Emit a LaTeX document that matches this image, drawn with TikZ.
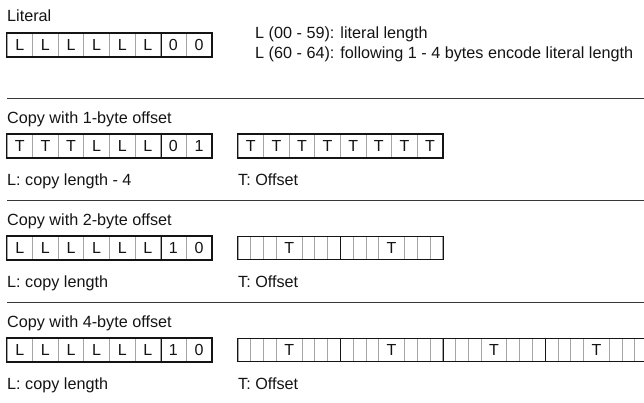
\documentclass[tikz,border=0pt]{standalone}
\usepackage{fontspec}
\setmainfont{Liberation Sans}
\definecolor{ink}{RGB}{20,20,20}
\definecolor{sepgray}{RGB}{165,165,165}
\begin{document}
\begin{tikzpicture}[x=1pt,y=-1pt,
  txt/.style={anchor=base west,inner sep=0pt,text=ink,font=\fontsize{16.2}{19}\selectfont},
  cell/.style={draw=sepgray,line width=0.7pt,minimum width=25.6pt,minimum height=23pt,inner sep=0pt,text=ink,font=\fontsize{16}{19}\selectfont},
  half/.style={cell,minimum width=12.8pt},
  tcell/.style={cell,minimum width=25.6pt},
  outerthick/.style={draw=ink,line width=1.6pt},
  outerthin/.style={draw=ink,line width=0.8pt},
  bytesep/.style={draw=ink,line width=0.9pt},
  rule/.style={draw=ink!85,line width=0.8pt}]
\useasboundingbox (0,0) rectangle (644,402);

% ---------- Literal ----------
\node[txt] (tlit) at (7,21) {Literal};
\foreach \t [count=\i] in {L,L,L,L,L,L,0,0}
  \node[cell] (lit\i) at ({7+(\i-0.5)*25.6},45) {\t};
\draw[bytesep] (lit6.north east) -- (lit6.south east);
\draw[outerthick] (lit1.north west) rectangle (lit8.south east);
\node[txt] (litA) at (255,38) {L (00 - 59): literal length};
\node[txt] (litB) at (255,58) {L (60 - 64): following 1 - 4 bytes encode literal length};

\coordinate (r1a) at (7,98); \coordinate (r1b) at (644,98);
\draw[rule] (r1a) -- (r1b);

% ---------- Copy 1-byte ----------
\node[txt] (t1) at (7,123) {Copy with 1-byte offset};
\foreach \t [count=\i] in {T,T,T,L,L,L,0,1}
  \node[cell] (a\i) at ({7+(\i-0.5)*25.6},146) {\t};
\draw[bytesep] (a6.north east) -- (a6.south east);
\draw[outerthick] (a1.north west) rectangle (a8.south east);
\foreach \i in {1,...,8}
  \node[cell] (ao\i) at ({238+(\i-0.5)*25.6},146) {T};
\draw[outerthick] (ao1.north west) rectangle (ao8.south east);
\node[txt] (l1) at (7,185) {L: copy length - 4};
\node[txt] (o1) at (238,185) {T: Offset};

\coordinate (r2a) at (7,200); \coordinate (r2b) at (644,200);
\draw[rule] (r2a) -- (r2b);

% ---------- Copy 2-byte ----------
\node[txt] (t2) at (7,225) {Copy with 2-byte offset};
\foreach \t [count=\i] in {L,L,L,L,L,L,1,0}
  \node[cell] (b\i) at ({7+(\i-0.5)*25.6},248) {\t};
\draw[bytesep] (b6.north east) -- (b6.south east);
\draw[outerthick] (b1.north west) rectangle (b8.south east);
\foreach \b in {0,1}{
  \foreach \k in {0,1,2,5,6,7}
    \node[half] (bh\b-\k) at ({238+\b*102.4+(\k+0.5)*12.8},248) {};
  \node[tcell] (bt\b) at ({238+\b*102.4+51.2},248) {T};
}
\draw[bytesep] (bh0-7.north east) -- (bh0-7.south east);
\draw[outerthin] (bh0-0.north west) rectangle (bh1-7.south east);
\node[txt] (l2) at (7,287) {L: copy length};
\node[txt] (o2) at (238,287) {T: Offset};

\coordinate (r3a) at (7,302); \coordinate (r3b) at (644,302);
\draw[rule] (r3a) -- (r3b);

% ---------- Copy 4-byte ----------
\node[txt] (t4) at (7,327) {Copy with 4-byte offset};
\foreach \t [count=\i] in {L,L,L,L,L,L,1,0}
  \node[cell] (c\i) at ({7+(\i-0.5)*25.6},350) {\t};
\draw[bytesep] (c6.north east) -- (c6.south east);
\draw[outerthick] (c1.north west) rectangle (c8.south east);
\foreach \b in {0,1,2,3}{
  \foreach \k in {0,1,2,5,6,7}
    \node[half] (ch\b-\k) at ({238+\b*102.4+(\k+0.5)*12.8},350) {};
  \node[tcell] (ct\b) at ({238+\b*102.4+51.2},350) {T};
}
\foreach \b in {0,1,2}
  \draw[bytesep] (ch\b-7.north east) -- (ch\b-7.south east);
\draw[outerthin] (ch0-0.north west) rectangle (ch3-7.south east);
\node[txt] (l4) at (7,389) {L: copy length};
\node[txt] (o4) at (238,389) {T: Offset};
\end{tikzpicture}
\end{document}
